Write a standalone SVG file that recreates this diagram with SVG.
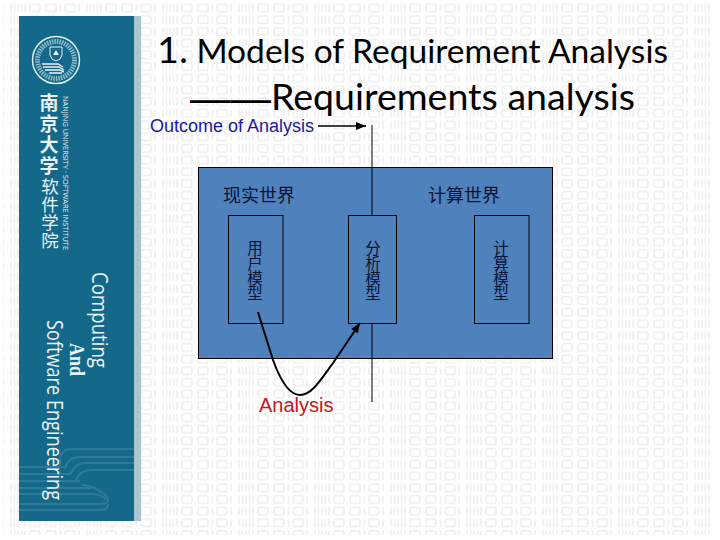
<svg xmlns="http://www.w3.org/2000/svg" width="720" height="540" viewBox="0 0 720 540">
<style>
.bar{fill:none;stroke:#eeeeee;stroke-width:1.500}
.ln{fill:none;stroke:#000;stroke-width:1}
.box{fill:none;stroke:#000;stroke-width:1}
.cj{font-family:"Noto Sans CJK SC","Noto Sans",sans-serif;fill:#0a1430;font-size:15.500px;text-anchor:middle}
.side{fill:#e8f3f6;font-family:"Open Sans","Liberation Sans",sans-serif}
.sidecj{fill:#e8f3f6;font-family:"Noto Sans CJK SC",sans-serif;text-anchor:middle}
.wave{fill:none;stroke:#2f7a98;stroke-width:2.200}
.ttl{font-family:Lato,"Liberation Sans",sans-serif;fill:#000}
</style>
<defs>
<pattern id="bits" patternUnits="userSpaceOnUse" x="10" y="3.500" width="76" height="11.700">
<path class="bar" d="M1 .5v8M4.500 .5v8M8 .5v8M11.500 .5v8M15 .5v8M50.500 .5v8M69 .5v8"/>
<rect class="bar" x="20" y=".8" width="10" height="7.500" rx="2"/>
<rect class="bar" x="36" y=".8" width="10" height="7.500" rx="2"/>
<rect class="bar" x="55" y=".8" width="10" height="7.500" rx="2"/>
</pattern>
<marker id="ah" markerUnits="userSpaceOnUse" markerWidth="11" markerHeight="9" refX="10" refY="4" orient="auto"><path d="M0 0L10 4L0 8z" fill="#000"/></marker>
</defs>
<rect width="720" height="540" fill="#fff"/>
<rect x="3" y="3" width="709" height="532" fill="url(#bits)"/>
<g id="sidebar">
<rect x="134" y="16" width="7" height="505" fill="#a9c6d0"/>
<rect x="19" y="16" width="115" height="505" fill="#14688a"/>
<g id="waves">
<path class="wave" d="M134 449H72q-12 0-12 12v6M134 457H80q-12 0-15 12M134 463H86q-12 0-16 12M134 470H92q-12 0-16 10"/>
<path class="wave" d="M19 467H64M19 474H70M19 481H80M19 488H92M19 494H92q10 0 14 6M19 504H100q8 0 8-4t-8-9q-10-6-18-6M19 510H100q8 0 8-6"/>
</g>
<g id="logo">
<circle cx="56" cy="60" r="23.500" fill="#14688a" stroke="#dfeef2" stroke-width="1.500"/>
<circle cx="56" cy="60" r="18.500" fill="none" stroke="#dfeef2" stroke-width="5" stroke-dasharray="1.500 1" opacity=".6"/>
<circle cx="56" cy="60" r="15.500" fill="#14688a"/>
<path d="M50 47h12v8q-1 5-6 6q-5-1-6-6z" fill="#14688a" stroke="#e8f3f6"/>
<path d="M53 55l3-5 3 5z" fill="#e8f3f6"/>
<path d="M42 64h16l5 3M43 67h16l5 3M45 70h15l4 2M49 73h13" fill="none" stroke="#e8f3f6" stroke-width="1.400"/>
</g>
<text class="sidecj" font-size="19" font-weight="700"><tspan x="49" y="110">南</tspan><tspan x="49" y="131">京</tspan><tspan x="49" y="152">大</tspan><tspan x="49" y="173">学</tspan></text>
<text class="sidecj" font-size="17.500"><tspan x="50" y="193">软</tspan><tspan x="50" y="211">件</tspan><tspan x="50" y="229">学</tspan><tspan x="50" y="247">院</tspan></text>
<text class="side" transform="translate(62.500 96) rotate(90)" font-size="7.500" textLength="154" lengthAdjust="spacingAndGlyphs">NANJING UNIVERSITY · SOFTWARE INSTITUTE</text>
<text class="side" transform="translate(92 272) rotate(90)" font-size="21" textLength="96" lengthAdjust="spacingAndGlyphs">Computing</text>
<text class="side" transform="translate(70 343) rotate(90)" font-size="20" font-weight="700" textLength="33" lengthAdjust="spacingAndGlyphs" style="font-family:'Liberation Serif',serif">And</text>
<text class="side" transform="translate(47 320) rotate(90)" font-size="21" textLength="180" lengthAdjust="spacingAndGlyphs">Software Engineering</text>
</g>
<g id="title">
<text class="ttl" x="157" y="63" font-size="32" textLength="511" lengthAdjust="spacingAndGlyphs"><tspan font-size="36">1.</tspan> Models of Requirement Analysis</text>
<text x="190" y="112" font-family="'Liberation Sans',sans-serif" font-size="40" fill="#000" textLength="81" lengthAdjust="spacingAndGlyphs">——</text>
<text class="ttl" x="271" y="110" font-size="36" textLength="364" lengthAdjust="spacingAndGlyphs">Requirements analysis</text>
</g>
<g id="world">
<rect x="198.500" y="167.500" width="354" height="191" fill="#4f81bd" stroke="#000"/>
</g>
<g id="connectors">
<path class="ln" d="M372 125V215M372 323V402"/>
<path d="M318 126H366" fill="none" stroke="#000" stroke-width="1.500" marker-end="url(#ah)"/>
<path d="M258 312C265 335 270 350 273 360C281 382 290 395 300 395C312 395 322 378 333 363C342 350 350 338 360 323" fill="none" stroke="#000" stroke-width="2" marker-end="url(#ah)"/>
</g>
<g id="user-model">
<rect class="box" x="228.500" y="215.500" width="54.500" height="108"/>
<text class="cj"><tspan x="255" y="254">用</tspan><tspan x="255" y="269">户</tspan><tspan x="255" y="284">模</tspan><tspan x="255" y="299">型</tspan></text>
</g>
<g id="analysis-model">
<rect class="box" x="348.500" y="215.500" width="48" height="108"/>
<text class="cj"><tspan x="373" y="254">分</tspan><tspan x="373" y="269">析</tspan><tspan x="373" y="284">模</tspan><tspan x="373" y="299">型</tspan></text>
</g>
<g id="compute-model">
<rect class="box" x="474.500" y="215.500" width="54.500" height="108"/>
<text class="cj"><tspan x="501" y="254">计</tspan><tspan x="501" y="269">算</tspan><tspan x="501" y="284">模</tspan><tspan x="501" y="299">型</tspan></text>
</g>
<g id="labels">
<text x="223" y="202" font-family="'Noto Sans CJK SC',sans-serif" font-size="18" fill="#0a1430">现实世界</text>
<text x="428" y="202" font-family="'Noto Sans CJK SC',sans-serif" font-size="18" fill="#0a1430">计算世界</text>
<text x="150" y="132" font-family="'Liberation Sans',Arial,sans-serif" font-size="18" fill="#1a1a9c">Outcome of Analysis</text>
<text x="259" y="412" font-family="'Liberation Sans',Arial,sans-serif" font-size="20" fill="#c8161d">Analysis</text>
</g>
</svg>
